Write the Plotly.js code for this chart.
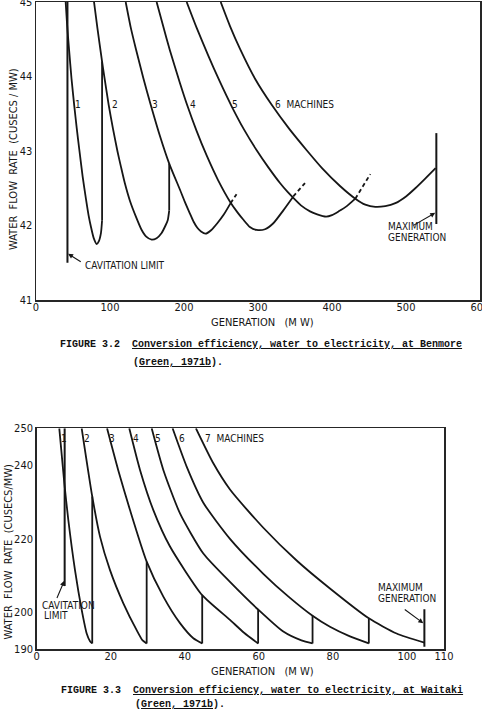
<!DOCTYPE html>
<html>
<head>
<meta charset="utf-8">
<script src="https://cdn.plot.ly/plotly-3.0.1.min.js"></script>
<style>html,body{margin:0;padding:0;background:#fff;}#chart{width:482px;height:711px;}</style>
</head>
<body>
<div id="chart"></div>
<script>
// ---------- Figure 3.2 : Benmore (generation MW vs water flow rate cusecs/MW) ----------
var benX1 = [40.1, 42, 44.6, 48, 51.8, 55, 58.5, 63, 67.6, 71, 74.3, 78, 82, 85, 87.8, 89.3];
var benY1 = [45, 44.7, 44.37, 43.97, 43.6, 43.31, 43.02, 42.66, 42.35, 42.14, 41.98, 41.83, 41.75, 41.79, 41.9, 42.07];
var benX2 = [78.4, 83, 89.3, 92, 98.2, 104, 110, 115, 120, 127, 135, 142.8, 149, 156.3, 163, 169.8, 175, 178, 180];
var benY2 = [45, 44.65, 44.2, 44.02, 43.62, 43.3, 43.0, 42.78, 42.57, 42.33, 42.12, 41.94, 41.85, 41.81, 41.83, 41.9, 42.0, 42.07, 42.2];
var benX3 = [121.2, 128, 135, 145, 155, 167.5, 180, 187, 194.6, 201, 208, 213, 218, 223, 229, 237, 245, 254, 263];
var benY3 = [45, 44.66, 44.37, 43.98, 43.62, 43.2, 42.83, 42.66, 42.48, 42.32, 42.16, 42.05, 41.97, 41.92, 41.89, 41.94, 42.03, 42.15, 42.3];
var benX4 = [163, 172, 181, 194.6, 204.5, 217, 230.6, 246, 262.2, 272, 280, 289, 298.2, 309.5, 320.7, 334, 347.7];
var benY4 = [45, 44.67, 44.35, 43.91, 43.61, 43.27, 42.94, 42.61, 42.32, 42.18, 42.08, 41.98, 41.94, 41.95, 42.03, 42.2, 42.39];
var benX5 = [203.6, 217, 232.8, 248, 264.4, 281, 298.2, 314, 329.7, 340, 347.7, 358, 370.3, 380, 392, 400, 409, 420, 431.5];
var benY5 = [45, 44.655, 44.28, 43.94, 43.6, 43.29, 43.01, 42.78, 42.57, 42.45, 42.37, 42.27, 42.19, 42.15, 42.12, 42.14, 42.19, 42.26, 42.36];
var benX6 = [249.6, 262, 275.7, 296, 318.5, 342, 365.8, 386.5, 410.8, 431.5, 445, 458.5, 472, 485.6, 500, 512.6, 526, 540];
var benY6 = [45, 44.68, 44.37, 43.97, 43.62, 43.3, 43.01, 42.77, 42.53, 42.36, 42.28, 42.25, 42.26, 42.3, 42.39, 42.5, 42.63, 42.77];
// dashed continuations beyond the change-over points (curves 3, 4, 5)
var benDashX = [[263, 271], [347.7, 363.5], [431.5, 451.8]];
var benDashY = [[42.3, 42.42], [42.39, 42.57], [42.36, 42.69]];
// vertical change-over lines (1->2, 2->3)
var benSwitchX = [89.3, 180];
var benSwitchLow = [42.07, 42.2];
var benSwitchHigh = [44.2, 42.83];
var benCavX = 42.5, benCavTop = 45, benCavBottom = 41.5;
var benMaxX = 541, benMaxTop = 43.24, benMaxBottom = 42.02;
var benXTicks = [0, 100, 200, 300, 400, 500, 600];
var benYTicks = [41, 42, 43, 44, 45];
var benCurveLabels = ['1', '2', '3', '4', '5'];
var benCurveLabelX = [57.2, 106.8, 160.8, 212.6, 269.4];

// ---------- Figure 3.3 : Waitaki ----------
var waiX1 = [6.1, 7.46, 8.54, 10.34, 12.15, 13.5, 14.4, 15];
var waiY1 = [250, 235.1, 225.1, 211.5, 200.7, 194.3, 192.2, 191.6];
var waiX2 = [12.15, 15, 17.1, 19.8, 23.4, 27, 28.6, 29.7];
var waiY2 = [250, 231.5, 220.6, 211.5, 202.5, 195.2, 192.4, 191.6];
var waiX3 = [19.0, 22.0, 25.2, 29.7, 34.2, 38.7, 42.3, 44.7];
var waiY3 = [250, 238.7, 227.8, 213.8, 204.3, 197.1, 193.0, 191.6];
var waiX4 = [25.0, 27.9, 31.5, 36.0, 44.7, 52.2, 56.0, 59.8];
var waiY4 = [250, 238.7, 227.8, 217.9, 204.7, 198.0, 194.5, 191.6];
var waiX5 = [31.05, 34.2, 38.7, 45.0, 52.2, 59.8, 66.6, 71.5, 74.5];
var waiY5 = [250, 238.7, 226.9, 216.0, 208.3, 200.8, 194.8, 192.4, 191.6];
var waiX6 = [36.7, 40.5, 45.0, 52.2, 61.2, 68.0, 74.5, 79.2, 84.6, 89.7];
var waiY6 = [250, 239.6, 229.8, 220.0, 210.5, 204.3, 199.1, 196.1, 193.5, 191.6];
var waiX7 = [43.0, 47.7, 52.2, 61.2, 70.2, 79.2, 89.7, 97.2, 104.7];
var waiY7 = [250, 240.5, 233.4, 223.0, 214.1, 206.5, 198.4, 194.3, 191.8];
var waiSwitchX = [15, 29.7, 44.7, 59.8, 74.5, 89.7];
var waiSwitchTop = [231.5, 213.8, 204.7, 200.8, 199.1, 198.4];
var waiSwitchBottom = 191.6;
var waiCavX = 7.55, waiCavTop = 250, waiCavBottom = 207.2;
var waiMaxX = 104.7, waiMaxTop = 200.9, waiMaxBottom = 190.7;
var waiXTicks = [0, 20, 40, 60, 80, 100, 110];
var waiYTicks = [190, 200, 220, 240, 250];
var waiCurveLabels = ['1', '2', '3', '4', '5', '6'];
var waiCurveLabelX = [7.4, 13.5, 20.3, 26.8, 32.7, 39.2];

var FONT = "'Liberation Sans Narrow', 'DejaVu Sans Condensed', 'Arial Narrow', sans-serif";
var MONO = "'Liberation Mono', 'Courier New', 'DejaVu Sans Mono', monospace";
var INK = '#161616';
var LW = 1.8;

var traces = [];
function curve(x, y, xa, ya, dash) {
  traces.push({x: x, y: y, xaxis: xa, yaxis: ya, type: 'scatter', mode: 'lines',
    line: {color: INK, width: LW, shape: 'spline', smoothing: 0.6, dash: dash || 'solid'},
    hoverinfo: 'skip', showlegend: false});
}
function straight(x, y, xa, ya, w) {
  traces.push({x: x, y: y, xaxis: xa, yaxis: ya, type: 'scatter', mode: 'lines',
    line: {color: INK, width: w || LW}, hoverinfo: 'skip', showlegend: false, cliponaxis: false});
}

// Benmore curves
[[benX1, benY1], [benX2, benY2], [benX3, benY3], [benX4, benY4], [benX5, benY5], [benX6, benY6]]
  .forEach(function (c) { curve(c[0], c[1], 'x', 'y'); });
benDashX.forEach(function (dx, i) {
  traces.push({x: dx, y: benDashY[i], xaxis: 'x', yaxis: 'y', type: 'scatter', mode: 'lines',
    line: {color: INK, width: LW, dash: '4px,3px'}, hoverinfo: 'skip', showlegend: false});
});
benSwitchX.forEach(function (sx, i) { straight([sx, sx], [benSwitchLow[i], benSwitchHigh[i]], 'x', 'y'); });
straight([benCavX, benCavX], [benCavTop, benCavBottom], 'x', 'y', 2);
straight([benMaxX, benMaxX], [benMaxTop, benMaxBottom], 'x', 'y', 2);

// Waitaki curves
[[waiX1, waiY1], [waiX2, waiY2], [waiX3, waiY3], [waiX4, waiY4], [waiX5, waiY5], [waiX6, waiY6], [waiX7, waiY7]]
  .forEach(function (c) { curve(c[0], c[1], 'x2', 'y2'); });
waiSwitchX.forEach(function (sx, i) { straight([sx, sx], [waiSwitchBottom, waiSwitchTop[i]], 'x2', 'y2'); });
straight([waiCavX, waiCavX], [waiCavTop, waiCavBottom], 'x2', 'y2', 2);
straight([waiMaxX, waiMaxX], [waiMaxTop, waiMaxBottom], 'x2', 'y2', 2);

function px(v) { return v / 482; }
function py(v) { return 1 - v / 711; }

var ann = [];
function lab(text, x, y, xr, yr, opts) {
  var a = {text: text, x: x, y: y, xref: xr, yref: yr, showarrow: false,
    font: {family: FONT, size: 10, color: INK}, xanchor: 'center', yanchor: 'middle'};
  for (var k in (opts || {})) a[k] = opts[k];
  ann.push(a);
}
function arrow(x, y, ax, ay, xr, yr) {
  ann.push({text: '', x: x, y: y, ax: ax, ay: ay, xref: xr, yref: yr, axref: xr, ayref: yr,
    showarrow: true, arrowhead: 2, arrowsize: 0.9, arrowwidth: 1.1, arrowcolor: INK});
}

// Benmore labels
benCurveLabels.forEach(function (t, i) { lab(t, benCurveLabelX[i], 43.62, 'x', 'y'); });
lab('6\u00A0\u00A0MACHINES', 320, 43.62, 'x', 'y', {xanchor: 'left'});
lab('CAVITATION\u00A0LIMIT', 63, 41.46, 'x', 'y', {xanchor: 'left'});
arrow(43.4, 41.62, 62.5, 41.5, 'x', 'y');
lab('MAXIMUM', 473, 41.98, 'x', 'y', {xanchor: 'left'});
lab('GENERATION', 473, 41.84, 'x', 'y', {xanchor: 'left'});
arrow(539.5, 42.17, 508, 41.99, 'x', 'y');

// Waitaki labels
waiCurveLabels.forEach(function (t, i) { lab(t, waiCurveLabelX[i], 247.3, 'x2', 'y2'); });
lab('7\u00A0\u00A0MACHINES', 45.0, 247.3, 'x2', 'y2', {xanchor: 'left'});
lab('CAVITATION', 0.8, 202.0, 'x2', 'y2', {xanchor: 'left'});
lab('LIMIT', 1.4, 199.3, 'x2', 'y2', {xanchor: 'left'});
arrow(7.45, 208.6, 5.3, 203.5, 'x2', 'y2');
lab('MAXIMUM', 91.6, 206.8, 'x2', 'y2', {xanchor: 'left'});
lab('GENERATION', 91.6, 203.8, 'x2', 'y2', {xanchor: 'left'});
arrow(104.4, 197.1, 99.0, 201.1, 'x2', 'y2');

// axis titles (as positioned text)
lab('WATER\u00A0\u00A0FLOW\u00A0\u00A0RATE\u00A0\u00A0(CUSECS\u00A0/\u00A0MW)', px(14), py(159), 'paper', 'paper', {textangle: -90, font: {family: FONT, size: 11, color: INK}});
lab('GENERATION\u00A0\u00A0\u00A0(M\u00A0W)', px(262), py(322), 'paper', 'paper', {font: {family: FONT, size: 11, color: INK}});
lab('WATER\u00A0\u00A0FLOW\u00A0\u00A0RATE\u00A0\u00A0(CUSECS/MW)', px(7.5), py(552), 'paper', 'paper', {textangle: -90, font: {family: FONT, size: 11, color: INK}});
lab('GENERATION\u00A0\u00A0\u00A0(M\u00A0W)', px(262), py(671), 'paper', 'paper', {font: {family: FONT, size: 11, color: INK}});

// captions
var capFont = {family: MONO, size: 10, color: '#111111', weight: 'bold'};
lab('FIGURE 3.2\u00A0\u00A0<u>Conversion efficiency, water to electricity, at Benmore</u>', px(58), py(344), 'paper', 'paper', {xanchor: 'left', font: capFont});
lab('(<u>Green, 1971b</u>).', px(131), py(362), 'paper', 'paper', {xanchor: 'left', font: capFont});
lab('FIGURE 3.3\u00A0\u00A0<u>Conversion efficiency, water to electricity, at Waitaki</u>', px(59), py(690.7), 'paper', 'paper', {xanchor: 'left', font: capFont});
lab('(<u>Green, 1971b</u>).', px(133), py(704), 'paper', 'paper', {xanchor: 'left', font: capFont});

var axCommon = {showgrid: false, zeroline: false, showline: true, mirror: true, linecolor: '#262626',
  linewidth: 1.5, ticks: '', tickfont: {family: FONT, size: 11, color: INK}, fixedrange: true,
  ticklabeloverflow: 'allow'};
function ax(o) { var r = {}; for (var k in axCommon) r[k] = axCommon[k]; for (var j in o) r[j] = o[j]; return r; }

var layout = {
  width: 482, height: 711,
  margin: {l: 0, r: 0, t: 0, b: 0},
  paper_bgcolor: '#ffffff', plot_bgcolor: '#ffffff',
  showlegend: false,
  font: {family: FONT, size: 11, color: INK},
  xaxis: ax({domain: [px(36), px(480)], range: [0, 600], tickmode: 'array', tickvals: benXTicks, anchor: 'y', ticklabelstandoff: -4}),
  yaxis: ax({domain: [py(300), py(2)], range: [41, 45], tickmode: 'array', tickvals: benYTicks, anchor: 'x'}),
  xaxis2: ax({domain: [px(36.7), px(444)], range: [0, 110], tickmode: 'array', tickvals: waiXTicks, anchor: 'y2', ticklabelstandoff: -4}),
  yaxis2: ax({domain: [py(649.3), py(428.3)], range: [190, 250], tickmode: 'array', tickvals: waiYTicks, anchor: 'x2'}),
  annotations: ann
};

Plotly.newPlot('chart', traces, layout, {staticPlot: true, displayModeBar: false});
</script>
</body>
</html>
